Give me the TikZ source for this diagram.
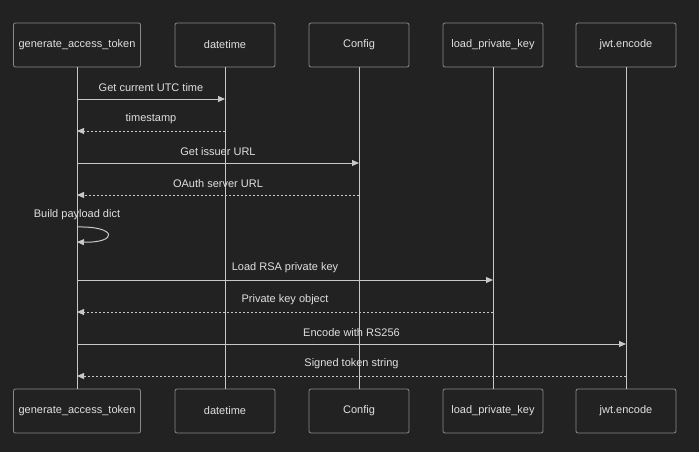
\documentclass[tikz,border=0pt]{standalone}
\usepackage{fontspec}
\setmainfont{Liberation Sans}
\usetikzlibrary{arrows.meta}
\definecolor{bg}{HTML}{222222}
\definecolor{boxline}{HTML}{8A8A8A}
\definecolor{ln}{HTML}{C8C8C8}
\definecolor{txt}{HTML}{E0E0E0}
\begin{document}
\begin{tikzpicture}[x=1pt,y=-1pt,
  actor/.style={draw=boxline,fill=bg,rounded corners=2pt,minimum height=44pt,text=txt,font=\fontsize{11}{13}\selectfont,inner sep=0pt,line width=0.8pt},
  life/.style={draw=ln,line width=1pt},
  msg/.style={draw=ln,line width=1pt,-{Triangle[length=7pt,width=6pt]}},
  reply/.style={msg,dash pattern=on 2pt off 2pt},
  lbl/.style={text=txt,font=\fontsize{11}{13}\selectfont,inner sep=0pt}]
\fill[bg] (0,0) rectangle (699,452);
\useasboundingbox (0,0) rectangle (699,452);
% top actors
\node[actor,minimum width=127pt] (a1) at (77,45) {generate\_access\_token};
\node[actor,minimum width=100pt] (a2) at (225,45) {datetime};
\node[actor,minimum width=100pt] (a3) at (359,45) {Config};
\node[actor,minimum width=100pt] (a4) at (493,45) {load\_private\_key};
\node[actor,minimum width=100pt] (a5) at (626,45) {jwt.encode};
% bottom actors
\node[actor,minimum width=127pt] (b1) at (77,411) {generate\_access\_token};
\node[actor,minimum width=100pt] (b2) at (225,411) {datetime};
\node[actor,minimum width=100pt] (b3) at (359,411) {Config};
\node[actor,minimum width=100pt] (b4) at (493,411) {load\_private\_key};
\node[actor,minimum width=100pt] (b5) at (626,411) {jwt.encode};
% lifelines
\foreach \i in {1,...,5} {\draw[life] (a\i.south) -- (b\i.north);}
% message anchors
\coordinate (m1s) at (77,99);  \coordinate (m1e) at (225,99);
\coordinate (m2s) at (225,131); \coordinate (m2e) at (77,131);
\coordinate (m3s) at (77,163);  \coordinate (m3e) at (359,163);
\coordinate (m4s) at (359,195); \coordinate (m4e) at (77,195);
\coordinate (m6s) at (77,280);  \coordinate (m6e) at (493,280);
\coordinate (m7s) at (493,312); \coordinate (m7e) at (77,312);
\coordinate (m8s) at (77,344);  \coordinate (m8e) at (626,344);
\coordinate (m9s) at (626,376); \coordinate (m9e) at (77,376);
\coordinate (l1) at (77,227); \coordinate (l2) at (77,242);
\draw[msg] (m1s) -- node[lbl,above=7pt] (t1) {Get current UTC time} (m1e);
\draw[reply] (m2s) -- node[lbl,above=7pt] (t2) {timestamp} (m2e);
\draw[msg] (m3s) -- node[lbl,above=7pt] (t3) {Get issuer URL} (m3e);
\draw[reply] (m4s) -- node[lbl,above=7pt] (t4) {OAuth server URL} (m4e);
\node[lbl] (t5) at (77,215) {Build payload dict};
\draw[msg] (l1) .. controls (118,226) and (118,243) .. (l2);
\draw[msg] (m6s) -- node[lbl,above=7pt] (t6) {Load RSA private key} (m6e);
\draw[reply] (m7s) -- node[lbl,above=7pt] (t7) {Private key object} (m7e);
\draw[msg] (m8s) -- node[lbl,above=7pt] (t8) {Encode with RS256} (m8e);
\draw[reply] (m9s) -- node[lbl,above=7pt] (t9) {Signed token string} (m9e);
\end{tikzpicture}
\end{document}
